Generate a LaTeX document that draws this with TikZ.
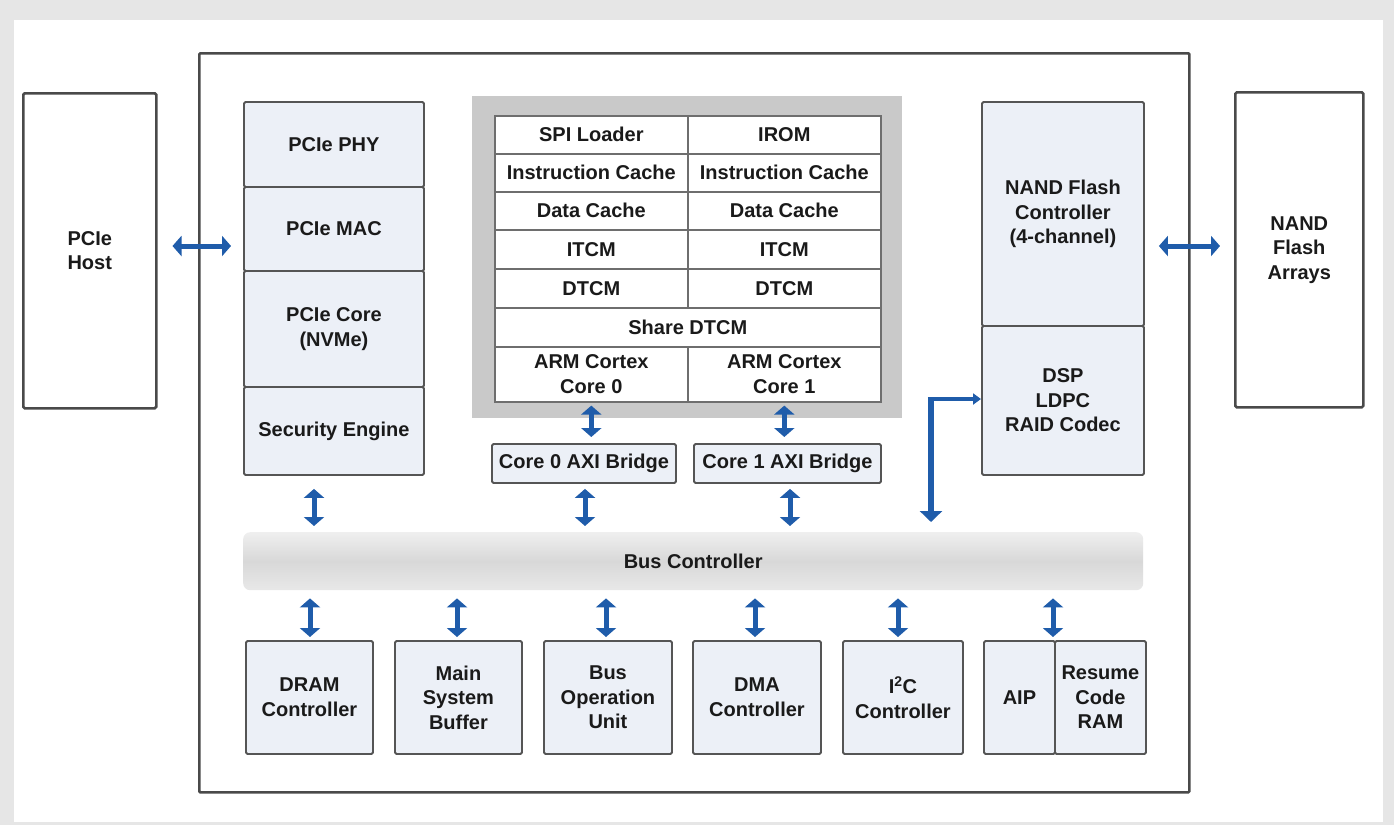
\documentclass[tikz,border=0pt]{standalone}
\usepackage{fontspec}
\setmainfont{Liberation Sans}
\usetikzlibrary{arrows.meta,calc}
\definecolor{boxfill}{HTML}{ECF0F7}
\definecolor{boxline}{HTML}{555555}
\definecolor{framec}{HTML}{4A4A4A}
\definecolor{arrowblue}{HTML}{1F5CAA}
\definecolor{coregray}{HTML}{C9C9C9}
\definecolor{textc}{HTML}{1A1A1A}
\definecolor{pagegray}{HTML}{E6E6E6}
\definecolor{busA}{HTML}{EFEFEF}
\definecolor{busB}{HTML}{D8D8D8}
\newcommand\lbl{\fontsize{20}{24.5}\selectfont\bfseries}
\tikzset{
  base/.style={inner sep=0pt, anchor=north west, align=center, font=\lbl, text=textc},
  blk/.style={base, draw=boxline, fill=boxfill, line width=1.9pt, rounded corners=1.5pt},
  ext/.style={base, draw=framec, fill=white, line width=2.5pt, rounded corners=1.5pt},
  cell/.style={base, draw=boxline!85, fill=white, line width=1.6pt},
  dbl/.style={draw=arrowblue, line width=5pt,
    {Triangle[width=20pt,length=9pt]}-{Triangle[width=20pt,length=9pt]}},
}
\begin{document}
\begin{tikzpicture}[x=1pt,y=-1pt]
\useasboundingbox (0,0) rectangle (1394,825);
% page background
\fill[pagegray] (0,0) rectangle (1394,825);
\fill[white] (14,20) rectangle (1383,822);
% chip frame
\node[base, draw=framec, line width=2.6pt, rounded corners=1pt, minimum width=990pt, minimum height=739pt] (chip) at (198,52) {};
% external boxes
\node[ext, minimum width=133pt, minimum height=315pt] (host) at (22,92) {PCIe\\Host};
\node[ext, minimum width=128pt, minimum height=315pt] (arrays) at (1234,91) {NAND\\Flash\\Arrays};
% left column
\node[blk, minimum width=180pt, minimum height=85pt] (phy) at (243,101) {PCIe PHY};
\node[blk, minimum width=180pt, minimum height=84pt] (mac) at (243,186) {PCIe MAC};
\node[blk, minimum width=180pt, minimum height=116pt] (pcore) at (243,270) {PCIe Core\\(NVMe)};
\node[blk, minimum width=180pt, minimum height=88pt] (sec) at (243,386) {Security Engine};
% right column
\node[blk, minimum width=162pt, minimum height=224pt] (nfc) at (981,101) {NAND Flash\\Controller\\(4-channel)};
\node[blk, minimum width=162pt, minimum height=149pt] (dsp) at (981,325) {DSP\\LDPC\\RAID Codec};
% CPU complex
\node[base, fill=coregray, minimum width=430pt, minimum height=322pt] (cpu) at (472,96) {};
\node[cell, minimum width=193pt, minimum height=38pt] (spi) at (494,115) {SPI Loader};
\node[cell, minimum width=193pt, minimum height=38pt] (irom) at (687,115) {IROM};
\node[cell, minimum width=193pt, minimum height=38pt] (ic0) at (494,153) {Instruction Cache};
\node[cell, minimum width=193pt, minimum height=38pt] (ic1) at (687,153) {Instruction Cache};
\node[cell, minimum width=193pt, minimum height=38pt] (dc0) at (494,191) {Data Cache};
\node[cell, minimum width=193pt, minimum height=38pt] (dc1) at (687,191) {Data Cache};
\node[cell, minimum width=193pt, minimum height=39pt] (it0) at (494,229) {ITCM};
\node[cell, minimum width=193pt, minimum height=39pt] (it1) at (687,229) {ITCM};
\node[cell, minimum width=193pt, minimum height=39pt] (dt0) at (494,268) {DTCM};
\node[cell, minimum width=193pt, minimum height=39pt] (dt1) at (687,268) {DTCM};
\node[cell, minimum width=386pt, minimum height=39pt] (sdt) at (494,307) {Share DTCM};
\node[cell, minimum width=193pt, minimum height=55pt] (arm0) at (494,346) {ARM Cortex\\Core 0};
\node[cell, minimum width=193pt, minimum height=55pt] (arm1) at (687,346) {ARM Cortex\\Core 1};
% bridges
\node[blk, minimum width=184pt, minimum height=39pt] (b0) at (491,443) {Core 0 AXI Bridge};
\node[blk, minimum width=187pt, minimum height=39pt] (b1) at (693,443) {Core 1 AXI Bridge};
% bus
\node[base, rounded corners=7pt, top color=busA, bottom color=busA!70!busB, middle color=busB,
  minimum width=900pt, minimum height=58pt] (bus) at (243,532) {Bus Controller};
% bottom peripherals
\node[blk, minimum width=127pt, minimum height=113pt] (dram) at (245,640) {DRAM\\Controller};
\node[blk, minimum width=127pt, minimum height=113pt] (msb) at (394,640) {Main\\System\\Buffer};
\node[blk, minimum width=128pt, minimum height=113pt] (bou) at (543,640) {Bus\\Operation\\Unit};
\node[blk, minimum width=128pt, minimum height=113pt] (dma) at (692,640) {DMA\\Controller};
\node[blk, minimum width=120pt, minimum height=113pt] (i2c) at (842,640) {I\textsuperscript{2}C\\Controller};
\node[blk, minimum width=71pt, minimum height=113pt] (aip) at (983,640) {AIP};
\node[blk, minimum width=91pt, minimum height=113pt] (rcr) at (1054,640) {Resume\\Code\\RAM};
% connectors
\coordinate (hy) at (0,246);
\draw[dbl, shorten <=15pt, shorten >=12pt] (host.east |- hy) -- (mac.west |- hy);
\draw[dbl, shorten <=14pt, shorten >=14pt] (nfc.east |- hy) -- (arrays.west |- hy);
\draw[dbl, shorten <=3pt, shorten >=6pt] (arm0.south) -- (arm0.south |- b0.north);
\draw[dbl, shorten <=3pt, shorten >=6pt] (arm1.south) -- (arm1.south |- b1.north);
\coordinate (sx) at (314,0);
\coordinate (b0x) at (585,0);
\coordinate (b1x) at (790,0);
\draw[dbl, shorten <=13pt, shorten >=6pt] (sec.south -| sx) -- (bus.north -| sx);
\draw[dbl, shorten <=5pt, shorten >=6pt] (b0.south -| b0x) -- (bus.north -| b0x);
\draw[dbl, shorten <=5pt, shorten >=6pt] (b1.south -| b1x) -- (bus.north -| b1x);
\foreach \n/\xx in {dram/310, msb/457, bou/606, dma/755, i2c/898, aip/1053}{
  \coordinate (px) at (\xx,0);
  \draw[dbl, shorten <=8pt, shorten >=3pt] (bus.south -| px) -- (\n.north -| px);
}
% elbow to DSP
\coordinate (ec) at (931,399);
\draw[draw=arrowblue, line width=6.5pt, -{Triangle[width=22pt,length=11pt]}, shorten >=10pt]
  ([yshift=2pt]ec) -- (bus.north -| ec);
\draw[draw=arrowblue, line width=4pt, -{Triangle[width=11pt,length=8pt]}]
  ([xshift=-3.2pt]ec) -- (dsp.west |- ec);
\end{tikzpicture}
\end{document}
